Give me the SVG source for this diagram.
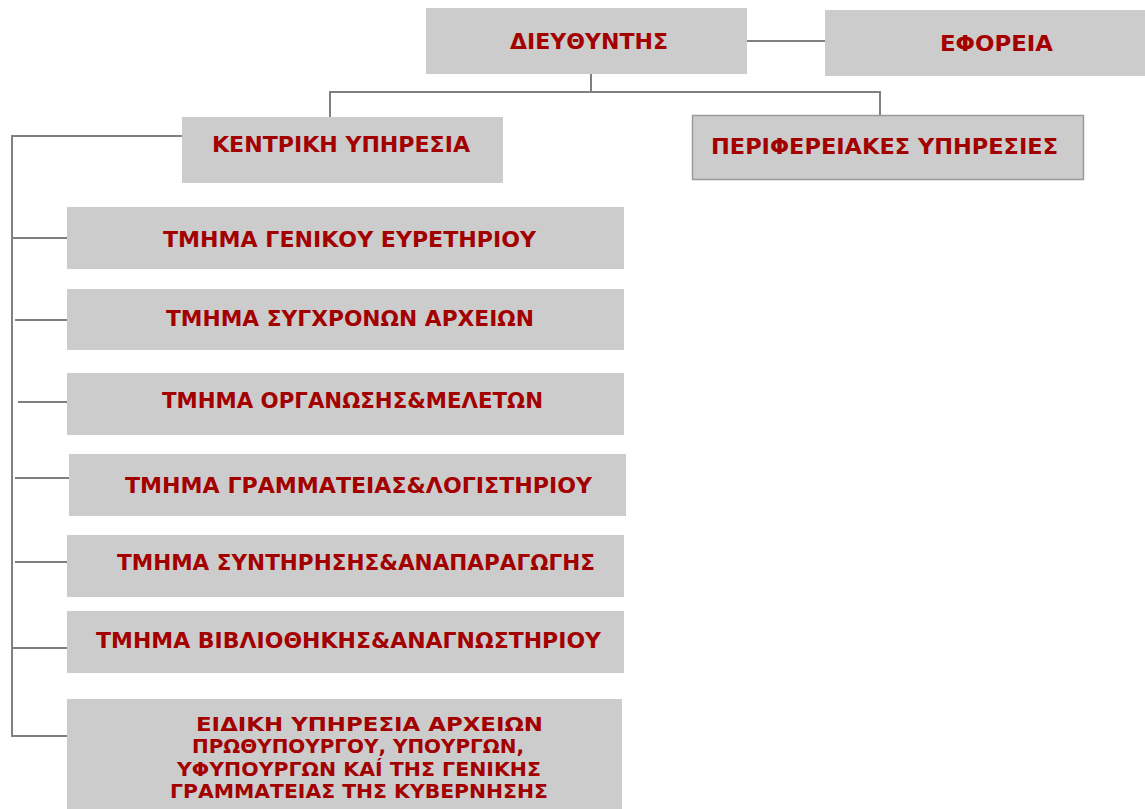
<svg xmlns="http://www.w3.org/2000/svg" width="1145" height="809" viewBox="0 0 1145 809">
<style>
.box{fill:#cccccc;}
.boxb{fill:#cccccc;stroke:#9a9a9a;stroke-width:1.5;}
.lbl{font-family:"DejaVu Sans",Verdana,sans-serif;font-weight:bold;font-size:22px;fill:#a30000;text-anchor:middle;}
.sm{font-size:20px;}
.ln{stroke:#808080;stroke-width:2;fill:none;}
</style>
<rect width="1145" height="809" fill="#ffffff"/>
<g id="connectors">
<path class="ln" d="M747,41 H825"/>
<path class="ln" d="M591,74 V92 M330,92 H880 M330,91 V117 M880,91 V115"/>
<path class="ln" d="M12,136 V737 M11,136 H182"/>
<path class="ln" d="M12,238 H67 M15,320 H67 M18,402 H67 M15,478 H69 M15,562 H67 M12,648 H67 M11,736 H67"/>
</g>
<g id="director">
<rect class="box" x="426" y="8" width="321" height="66"/>
<text class="lbl" x="589" y="49" textLength="158" lengthAdjust="spacingAndGlyphs">ΔΙΕΥΘΥΝΤΗΣ</text>
</g>
<g id="eforeia">
<rect class="box" x="825" y="10" width="320" height="66"/>
<text class="lbl" x="996.5" y="51" textLength="113" lengthAdjust="spacingAndGlyphs">ΕΦΟΡΕΙΑ</text>
</g>
<g id="kentriki">
<rect class="box" x="182" y="117" width="321" height="66"/>
<text class="lbl" x="341" y="152" textLength="258" lengthAdjust="spacingAndGlyphs">ΚΕΝΤΡΙΚΗ ΥΠΗΡΕΣΙΑ</text>
</g>
<g id="perifereiakes">
<rect class="boxb" x="692.5" y="115.5" width="391" height="64"/>
<text class="lbl" x="884.5" y="154" textLength="347" lengthAdjust="spacingAndGlyphs">ΠΕΡΙΦΕΡΕΙΑΚΕΣ ΥΠΗΡΕΣΙΕΣ</text>
</g>
<g id="t1">
<rect class="box" x="67" y="207" width="557" height="62"/>
<text class="lbl" x="349.5" y="247" textLength="373" lengthAdjust="spacingAndGlyphs">ΤΜΗΜΑ ΓΕΝΙΚΟΥ ΕΥΡΕΤΗΡΙΟΥ</text>
</g>
<g id="t2">
<rect class="box" x="67" y="289" width="557" height="61"/>
<text class="lbl" x="350" y="326" textLength="368" lengthAdjust="spacingAndGlyphs">ΤΜΗΜΑ ΣΥΓΧΡΟΝΩΝ ΑΡΧΕΙΩΝ</text>
</g>
<g id="t3">
<rect class="box" x="67" y="373" width="557" height="62"/>
<text class="lbl" x="352.5" y="408" textLength="381" lengthAdjust="spacingAndGlyphs">ΤΜΗΜΑ ΟΡΓΑΝΩΣΗΣ&amp;ΜΕΛΕΤΩΝ</text>
</g>
<g id="t4">
<rect class="box" x="69" y="454" width="557" height="62"/>
<text class="lbl" x="358.5" y="493" textLength="467" lengthAdjust="spacingAndGlyphs">ΤΜΗΜΑ ΓΡΑΜΜΑΤΕΙΑΣ&amp;ΛΟΓΙΣΤΗΡΙΟΥ</text>
</g>
<g id="t5">
<rect class="box" x="67" y="535" width="557" height="62"/>
<text class="lbl" x="356" y="570" textLength="478" lengthAdjust="spacingAndGlyphs">ΤΜΗΜΑ ΣΥΝΤΗΡΗΣΗΣ&amp;ΑΝΑΠΑΡΑΓΩΓΗΣ</text>
</g>
<g id="t6">
<rect class="box" x="67" y="611" width="557" height="62"/>
<text class="lbl" x="348.5" y="648" textLength="505" lengthAdjust="spacingAndGlyphs">ΤΜΗΜΑ ΒΙΒΛΙΟΘΗΚΗΣ&amp;ΑΝΑΓΝΩΣΤΗΡΙΟΥ</text>
</g>
<g id="t7">
<rect class="box" x="67" y="699" width="555" height="110"/>
<text class="lbl sm" x="369.5" y="731" textLength="347" lengthAdjust="spacingAndGlyphs">ΕΙΔΙΚΗ ΥΠΗΡΕΣΙΑ ΑΡΧΕΙΩΝ</text>
<text class="lbl sm" x="358" y="753" textLength="332" lengthAdjust="spacingAndGlyphs">ΠΡΩΘΥΠΟΥΡΓΟΥ, ΥΠΟΥΡΓΩΝ,</text>
<text class="lbl sm" x="359" y="776" textLength="364" lengthAdjust="spacingAndGlyphs">ΥΦΥΠΟΥΡΓΩΝ ΚΑÍ ΤΗΣ ΓΕΝΙΚΗΣ</text>
<text class="lbl sm" x="359" y="798" textLength="378" lengthAdjust="spacingAndGlyphs">ΓΡΑΜΜΑΤΕΙΑΣ ΤΗΣ ΚΥΒΕΡΝΗΣΗΣ</text>
</g>
</svg>
